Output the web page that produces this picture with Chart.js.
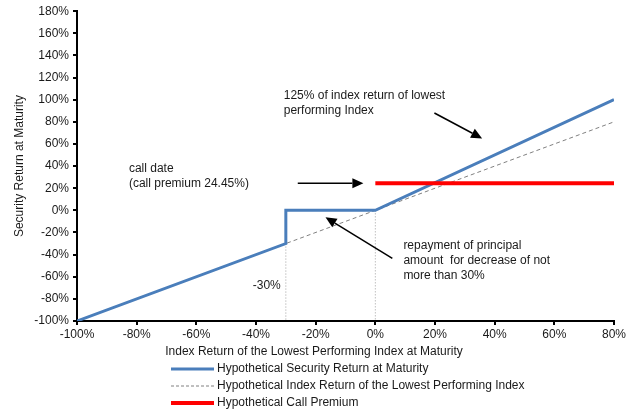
<!DOCTYPE html>
<html>
<head>
<meta charset="utf-8">
<script src="https://cdn.jsdelivr.net/npm/chart.js@4"></script>
<style>
  html, body { margin: 0; padding: 0; background: #fff; }
  #wrap { width: 636px; height: 412px; }
</style>
</head>
<body>
<div id="wrap"><canvas id="chart" width="636" height="412"></canvas></div>
<script>
// datos del gráfico
const securityX = [-100, -30, -30, 0, 80];
const securityY = [-100, -30, 0, 0, 100];
const indexX = [-100, 80];
const indexY = [-100, 80];
const premiumX = [0, 80];
const premiumY = [24.45, 24.45];
const guide1X = [-30, -30];
const guide1Y = [-30, -100];
const guide2X = [0, 0];
const guide2Y = [0, -100];
const seriesNames = [
    'Hypothetical Security Return at Maturity',
    'Hypothetical Index Return of the Lowest Performing Index',
    'Hypothetical Call Premium'
];
const xTitle = 'Index Return of the Lowest Performing Index at Maturity';
const yTitle = 'Security Return at Maturity';

// notas y flechas (en coordenadas de datos)
const notes = [
    { x: -30.7, y: 104, lines: ['125% of index return of lowest', 'performing Index'] },
    { x: -82.6, y: 38, lines: ['call date', '(call premium 24.45%)'] },
    { x: 9.4, y: -32, lines: ['repayment of principal', 'amount  for decrease of not', 'more than 30%'] },
    { x: -41.1, y: -68, lines: ['-30%'] }
];
const arrows = [
    { from: [19.8, 88], to: [35.8, 65] },
    { from: [-26, 24.4], to: [-4, 24.4] },
    { from: [5.7, -43.4], to: [-16.7, -6.3] }
];

const FONT = '"Liberation Sans", Arial, sans-serif';

function pts(xs, ys) {
    return xs.map((x, i) => ({ x: x, y: ys[i] }));
}

const extras = {
    id: 'extras',
    afterDraw(chart) {
        const ctx = chart.ctx;
        const xs = chart.scales.x;
        const ys = chart.scales.y;
        ctx.save();
        ctx.font = '12px ' + FONT;
        ctx.fillStyle = '#1a1a1a';
        ctx.textBaseline = 'middle';
        ctx.textAlign = 'left';
        notes.forEach(n => {
            const px = xs.getPixelForValue(n.x);
            const py = ys.getPixelForValue(n.y);
            n.lines.forEach((t, i) => ctx.fillText(t, px, py + i * 15));
        });

        // flechas
        ctx.strokeStyle = '#000';
        ctx.fillStyle = '#000';
        ctx.lineWidth = 1.5;
        arrows.forEach(a => {
            const x1 = xs.getPixelForValue(a.from[0]), y1 = ys.getPixelForValue(a.from[1]);
            const x2 = xs.getPixelForValue(a.to[0]), y2 = ys.getPixelForValue(a.to[1]);
            const ang = Math.atan2(y2 - y1, x2 - x1);
            const len = 11, w = 5;
            const bx = x2 - len * Math.cos(ang), by = y2 - len * Math.sin(ang);
            ctx.beginPath();
            ctx.moveTo(x1, y1);
            ctx.lineTo(bx, by);
            ctx.stroke();
            ctx.beginPath();
            ctx.moveTo(x2, y2);
            ctx.lineTo(bx + w * Math.sin(ang), by - w * Math.cos(ang));
            ctx.lineTo(bx - w * Math.sin(ang), by + w * Math.cos(ang));
            ctx.closePath();
            ctx.fill();
        });

        // títulos de ejes
        ctx.fillStyle = '#1a1a1a';
        ctx.textAlign = 'center';
        ctx.fillText(xTitle, 314, 352);
        ctx.save();
        ctx.translate(20, (chart.chartArea.top + chart.chartArea.bottom) / 2);
        ctx.rotate(-Math.PI / 2);
        ctx.fillText(yTitle, 0, 0);
        ctx.restore();

        // leyenda
        const rows = [369, 386, 403];
        const styles = [
            { color: '#4a7ebb', width: 3, dash: [] },
            { color: '#808080', width: 1, dash: [3, 2] },
            { color: '#ff0000', width: 4, dash: [] }
        ];
        ctx.textAlign = 'left';
        seriesNames.forEach((name, i) => {
            const s = styles[i];
            ctx.beginPath();
            ctx.setLineDash(s.dash);
            ctx.strokeStyle = s.color;
            ctx.lineWidth = s.width;
            ctx.moveTo(171, rows[i]);
            ctx.lineTo(214, rows[i]);
            ctx.stroke();
            ctx.setLineDash([]);
            ctx.fillStyle = '#1a1a1a';
            ctx.fillText(name, 217, rows[i]);
        });
        ctx.restore();
    }
};

const guideStyle = {
    borderColor: '#a0a0a0',
    borderWidth: 1,
    borderDash: [1, 2],
    pointRadius: 0,
    order: 4
};

new Chart(document.getElementById('chart').getContext('2d'), {
    type: 'line',
    data: {
        datasets: [
            Object.assign({ label: 'guide1', data: pts(guide1X, guide1Y) }, guideStyle),
            Object.assign({ label: 'guide2', data: pts(guide2X, guide2Y) }, guideStyle),
            {
                label: seriesNames[1],
                data: pts(indexX, indexY),
                borderColor: '#808080',
                borderWidth: 1,
                borderDash: [4, 3],
                pointRadius: 0,
                order: 3
            },
            {
                label: seriesNames[0],
                data: pts(securityX, securityY),
                borderColor: '#4a7ebb',
                borderWidth: 3,
                pointRadius: 0,
                order: 2
            },
            {
                label: seriesNames[2],
                data: pts(premiumX, premiumY),
                borderColor: '#ff0000',
                borderWidth: 4,
                pointRadius: 0,
                order: 1
            }
        ]
    },
    options: {
        responsive: false,
        animation: false,
        layout: { padding: { top: 11, right: 22, left: 0, bottom: 0 } },
        plugins: { legend: { display: false }, tooltip: { enabled: false } },
        scales: {
            x: {
                type: 'linear',
                min: -100,
                max: 80,
                afterFit: s => { s.height = 91; },
                ticks: {
                    stepSize: 20,
                    padding: 2,
                    color: '#1a1a1a',
                    font: { family: FONT, size: 12 },
                    callback: v => v + '%'
                },
                grid: { drawOnChartArea: false, drawTicks: true, tickLength: 4, color: '#000', lineWidth: 2 },
                border: { color: '#000', width: 2 }
            },
            y: {
                min: -100,
                max: 180,
                afterFit: s => { s.width = 77; },
                ticks: {
                    stepSize: 20,
                    padding: 4,
                    color: '#1a1a1a',
                    font: { family: FONT, size: 12 },
                    callback: v => v + '%'
                },
                grid: { drawOnChartArea: false, drawTicks: true, tickLength: 4, color: '#000', lineWidth: 2 },
                border: { color: '#000', width: 2 }
            }
        }
    },
    plugins: [extras]
});
</script>
</body>
</html>
